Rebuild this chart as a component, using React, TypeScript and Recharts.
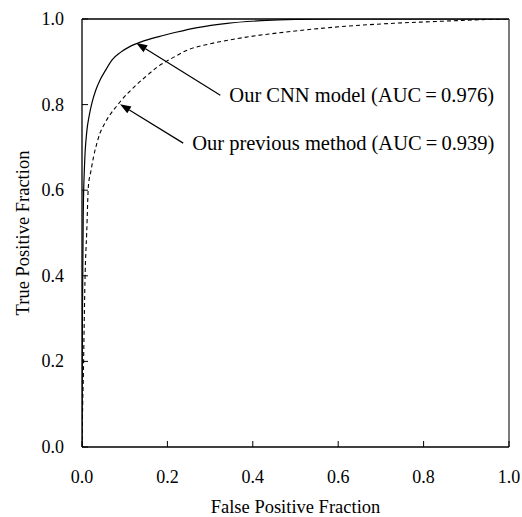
import React from 'react';
import { LineChart, Line, XAxis, YAxis, ReferenceLine } from 'recharts';

// ROC curve (false positive fraction -> true positive fraction)
const fprCnn = [0, 0.001, 0.003, 0.006, 0.011, 0.017, 0.023, 0.032, 0.042, 0.055, 0.071, 0.09, 0.113, 0.14, 0.18, 0.22, 0.27, 0.34, 0.42, 0.5, 0.6, 0.8, 1.0];
const tprCnn = [0, 0.3, 0.55, 0.66, 0.735, 0.775, 0.803, 0.833, 0.857, 0.88, 0.905, 0.922, 0.936, 0.947, 0.959, 0.969, 0.98, 0.99, 0.996, 0.999, 1, 1, 1];

const fprPrev = [0, 0.002, 0.003, 0.005, 0.007, 0.011, 0.015, 0.021, 0.027, 0.035, 0.042, 0.05, 0.066, 0.08, 0.092, 0.123, 0.15, 0.178, 0.21, 0.248, 0.3, 0.381, 0.5, 0.616, 0.73, 0.85, 0.95, 1.0];
const tprPrev = [0, 0.12, 0.157, 0.28, 0.39, 0.5, 0.61, 0.645, 0.678, 0.71, 0.733, 0.75, 0.777, 0.795, 0.81, 0.842, 0.866, 0.889, 0.908, 0.928, 0.942, 0.957, 0.972, 0.983, 0.99, 0.995, 0.999, 1.0];

const axisTicks = [0, 0.2, 0.4, 0.6, 0.8, 1.0];

const cnnLabel = 'Our CNN model (AUC\u2009=\u20090.976)';
const prevLabel = 'Our previous method (AUC\u2009=\u20090.939)';

const FONT = "'Liberation Serif', 'Times New Roman', serif";
const textStyle = { fontFamily: FONT };

const cnnData = fprCnn.map((f, i) => ({ fpr: f, tpr: tprCnn[i] }));
const prevData = fprPrev.map((f, i) => ({ fpr: f, tpr: tprPrev[i] }));

const XTick = ({ x, y, payload }: any) => (
  <g>
    <line x1={x} y1={y} x2={x} y2={y - 6} stroke="#000" />
    <text x={x} y={y + 36} textAnchor="middle" fontSize={18} style={textStyle} fill="#000">
      {Number(payload.value).toFixed(1)}
    </text>
  </g>
);

const YTick = ({ x, y, payload }: any) => (
  <g>
    <line x1={x} y1={y} x2={x + 6} y2={y} stroke="#000" />
    <text x={x - 18} y={y + 6} textAnchor="end" fontSize={18} style={textStyle} fill="#000">
      {Number(payload.value).toFixed(1)}
    </text>
  </g>
);

// arrow from the label (tail) to the curve (tip), label written right of the tail
const arrowShape = (text: string) => (props: any) => {
  const { x1, y1, x2, y2 } = props;
  const ang = Math.atan2(y2 - y1, x2 - x1);
  const len = 11;
  const half = 4;
  const bx = x2 - len * Math.cos(ang);
  const by = y2 - len * Math.sin(ang);
  const px = -Math.sin(ang) * half;
  const py = Math.cos(ang) * half;
  return (
    <g>
      <line x1={x1} y1={y1} x2={bx} y2={by} stroke="#000" strokeWidth={1.2} />
      <polygon points={`${x2},${y2} ${bx + px},${by + py} ${bx - px},${by - py}`} fill="#000" />
      <text x={x1 + 9} y={y1 + 7} fontSize={20.5} style={textStyle} fill="#000">
        {text}
      </text>
    </g>
  );
};

export default function App() {
  return (
    <div style={{ position: 'absolute', left: 0, top: 0, width: 522, height: 517, overflow: 'hidden', background: '#fff' }}>
      <LineChart width={522} height={517} margin={{ top: 19, right: 13, left: 22, bottom: 30 }}>
        <XAxis
          type="number"
          dataKey="fpr"
          domain={[0, 1]}
          ticks={axisTicks}
          tickSize={0}
          tickMargin={0}
          tick={<XTick />}
          tickLine={false}
          height={40}
          axisLine={{ stroke: '#000', strokeWidth: 1.3 }}
          allowDataOverflow
          label={{ value: 'False Positive Fraction', position: 'bottom', offset: 13, fill: '#000', fontSize: 18.5, style: textStyle }}
        />
        <YAxis
          type="number"
          dataKey="tpr"
          domain={[0, 1]}
          ticks={axisTicks}
          tickSize={0}
          tickMargin={0}
          tick={<YTick />}
          tickLine={false}
          width={60}
          axisLine={{ stroke: '#000', strokeWidth: 1.3 }}
          allowDataOverflow
          label={{ value: 'True Positive Fraction', angle: -90, position: 'insideLeft', offset: 0, fill: '#000', fontSize: 18.5, style: { ...textStyle, textAnchor: 'middle' } }}
        />
        <ReferenceLine y={1} stroke="#000" strokeWidth={1.3} />
        <ReferenceLine x={1} stroke="#333" strokeWidth={1.3} />
        <Line data={prevData} dataKey="tpr" type="monotone" stroke="#000" strokeWidth={1.1} strokeDasharray="4 3" dot={false} isAnimationActive={false} />
        <Line data={cnnData} dataKey="tpr" type="monotone" stroke="#000" strokeWidth={1.2} dot={false} isAnimationActive={false} />
        <ReferenceLine segment={[{ x: 0.324, y: 0.822 }, { x: 0.127, y: 0.944 }]} shape={arrowShape(cnnLabel)} />
        <ReferenceLine segment={[{ x: 0.237, y: 0.71 }, { x: 0.089, y: 0.801 }]} shape={arrowShape(prevLabel)} />
      </LineChart>
    </div>
  );
}
